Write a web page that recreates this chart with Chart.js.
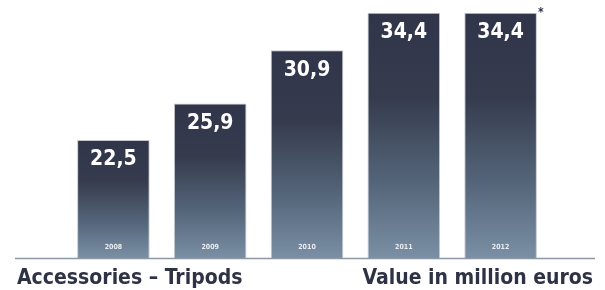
<!DOCTYPE html>
<html>
<head>
<meta charset="utf-8">
<script src="https://cdn.jsdelivr.net/npm/chart.js@4/dist/chart.umd.min.js"></script>
<style>
  html, body { margin: 0; padding: 0; background: #fff; }
  #wrap { width: 605px; height: 290px; position: relative; }
</style>
</head>
<body>
<div id="wrap"><canvas id="myChart" width="605" height="290"></canvas></div>
<script>
const years = ["2008", "2009", "2010", "2011", "2012"];
const values = [22.5, 25.9, 30.9, 34.4, 34.4];
const valueLabels = ["22,5", "25,9", "30,9", "34,4", "34,4"];
const footLeft = "Accessories – Tripods";
const footRight = "Value in million euros";

const FONT = "'DejaVu Sans Condensed', 'Liberation Sans Narrow', sans-serif";
const NAVY = "#2e3245";

// gradient per bar: dark at the top, slate blue at the bottom
function barGradient(context) {
  const chart = context.chart;
  const area = chart.chartArea;
  if (!area) return "#3a4152";
  const y = chart.scales.y;
  const top = y.getPixelForValue(values[context.dataIndex]);
  const g = chart.ctx.createLinearGradient(0, top, 0, area.bottom);
  g.addColorStop(0, "#30354a");
  g.addColorStop(0.35, "#363c4e");
  g.addColorStop(0.7, "#55667a");
  g.addColorStop(1, "#7a8fa5");
  return g;
}

const labelsPlugin = {
  id: "labels",
  afterDatasetsDraw(chart) {
    const ctx = chart.ctx;
    const meta = chart.getDatasetMeta(0);
    const area = chart.chartArea;
    ctx.save();
    ctx.textAlign = "center";
    meta.data.forEach((bar, i) => {
      ctx.fillStyle = "#ffffff";
      ctx.font = "bold 21px " + FONT;
      ctx.textBaseline = "middle";
      ctx.fillText(valueLabels[i], bar.x, bar.y + 20);
      ctx.font = "bold 7px " + FONT;
      ctx.fillStyle = "rgba(255,255,255,0.85)";
      ctx.fillText(years[i], bar.x, area.bottom - 11);
    });
    // asterisk on the last bar
    const last = meta.data[meta.data.length - 1];
    ctx.fillStyle = NAVY;
    ctx.font = "bold 12px " + FONT;
    ctx.textAlign = "left";
    ctx.fillText("*", last.x + last.width / 2 + 1, last.y);

    // baseline
    ctx.strokeStyle = "#8d98a5";
    ctx.lineWidth = 1.5;
    ctx.beginPath();
    ctx.moveTo(15, area.bottom + 0.5);
    ctx.lineTo(595, area.bottom + 0.5);
    ctx.stroke();

    // footer texts
    ctx.fillStyle = NAVY;
    ctx.font = "bold 21px " + FONT;
    ctx.textBaseline = "alphabetic";
    ctx.textAlign = "left";
    ctx.fillText(footLeft, 17, 284);
    ctx.textAlign = "right";
    ctx.fillText(footRight, 593, 284);
    ctx.restore();
  },
};

const myChart = new Chart(document.getElementById("myChart"), {
  type: "bar",
  data: {
    labels: years,
    datasets: [
      {
        data: values,
        backgroundColor: barGradient,
        borderColor: "#c4c8ce",
        borderWidth: 1,
        borderSkipped: "bottom",
        categoryPercentage: 1,
        barPercentage: 0.75,
      },
    ],
  },
  options: {
    responsive: false,
    animation: false,
    layout: { padding: { left: 65, right: 56, top: 0, bottom: 32 } },
    scales: {
      x: { display: false },
      y: { display: false, min: 11.44, max: 35.6 },
    },
    plugins: {
      legend: { display: false },
      tooltip: { enabled: false },
    },
  },
  plugins: [labelsPlugin],
});
</script>
</body>
</html>
